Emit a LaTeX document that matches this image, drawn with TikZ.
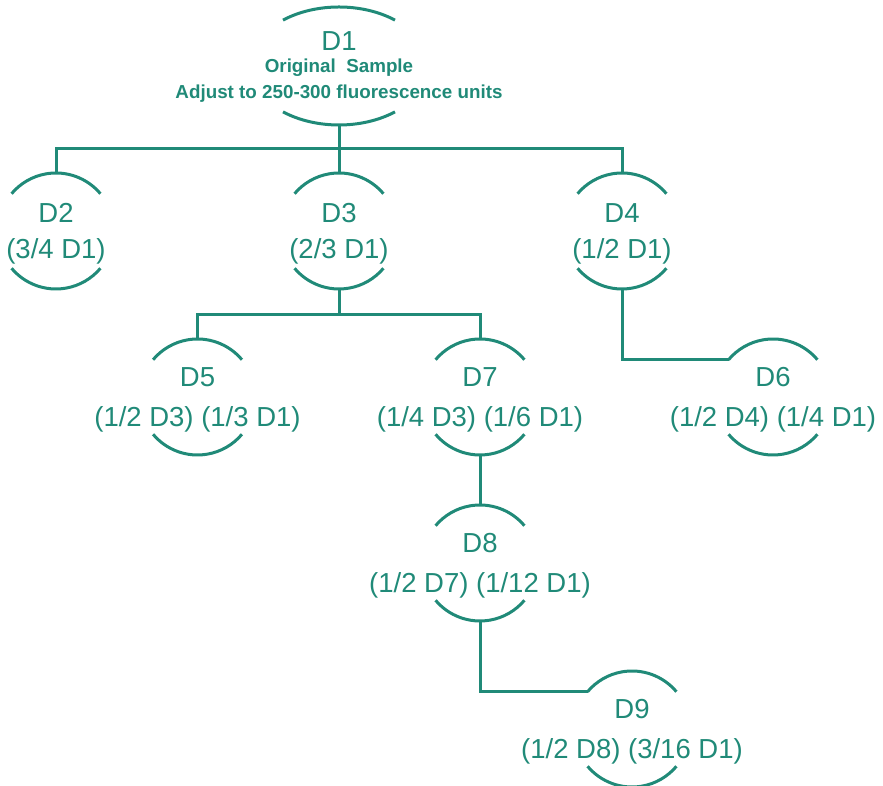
\documentclass[tikz,border=0pt]{standalone}
\usepackage{fontspec}
\setmainfont{Liberation Sans}
\usetikzlibrary{shapes.geometric}
\definecolor{sampleteal}{RGB}{32,138,120}

\begin{document}
\begin{tikzpicture}[x=1pt,y=1pt,
  wire/.style={draw=sampleteal,line width=3pt},
  tube/.style={circle,minimum size=116pt,inner sep=0pt,outer sep=0pt},
  dtext/.style={text=sampleteal,align=center,inner sep=0pt,yshift=-3pt,
    font=\fontsize{27.5}{40}\selectfont},
  title/.style={text=sampleteal,anchor=base,inner sep=0pt,
    font=\fontsize{18.8}{22}\selectfont\bfseries}]
\useasboundingbox (0,0) rectangle (883,786);

% stock sample
\node[ellipse,minimum width=178pt,minimum height=118pt,inner sep=0pt,outer sep=0pt] (d1) at (339,720) {};
\node[text=sampleteal,anchor=base,inner sep=0pt,font=\fontsize{27.5}{30}\selectfont] (d1-name) at (339,735) {D1};
\node[title] (d1-note) at (339,713) {Original\ \ Sample};
\node[title] (d1-adj) at (339,687) {Adjust to 250-300 fluorescence units};

% dilutions
\node[tube] (d2) at (56,555) {};
\node[tube] (d3) at (339,555) {};
\node[tube] (d4) at (622,555) {};
\node[tube] (d5) at (197.5,389) {};
\node[tube] (d7) at (480,389) {};
\node[tube] (d6) at (773,389) {};
\node[tube] (d8) at (480,223) {};
\node[tube] (d9) at (632,57) {};

\node[dtext,font=\fontsize{27.5}{36}\selectfont] (d2-txt) at (d2) {D2\\(3/4 D1)};
\node[dtext,font=\fontsize{27.5}{36}\selectfont] (d3-txt) at (d3) {D3\\(2/3 D1)};
\node[dtext,font=\fontsize{27.5}{36}\selectfont] (d4-txt) at (d4) {D4\\(1/2 D1)};
\node[dtext] (d5-txt) at (d5) {D5\\(1/2 D3) (1/3 D1)};
\node[dtext] (d7-txt) at (d7) {D7\\(1/4 D3) (1/6 D1)};
\node[dtext] (d6-txt) at (d6) {D6\\(1/2 D4) (1/4 D1)};
\node[dtext] (d8-txt) at (d8) {D8\\(1/2 D7) (1/12 D1)};
\node[dtext] (d9-txt) at (d9) {D9\\(1/2 D8) (3/16 D1)};

% arcs above and below each label
\draw[wire] ([shift={(51:89pt and 59pt)}]d1.center) arc[start angle=51,end angle=129,x radius=89pt,y radius=59pt];
\draw[wire] ([shift={(231:89pt and 59pt)}]d1.center) arc[start angle=231,end angle=309,x radius=89pt,y radius=59pt];
\foreach \d in {d2,d3,d4,d5,d6,d7,d8,d9}
  \draw[wire] (\d.40) arc[start angle=40,end angle=140,radius=58pt]
              (\d.220) arc[start angle=220,end angle=320,radius=58pt];

% connectors
\coordinate (split1) at (339,637);
\coordinate (split2) at (339,471);
\draw[wire] (d1.south) -- (d3.north);
\draw[wire] (d2.north) |- (split1) -| (d4.north);
\draw[wire] (d3.south) -- (split2);
\draw[wire] (d5.north) |- (split2) -| (d7.north);
\draw[wire] (d4.south) |- (d6.140);
\draw[wire] (d7.south) -- (d8.north);
\draw[wire] (d8.south) |- (d9.140);
\end{tikzpicture}
\end{document}
